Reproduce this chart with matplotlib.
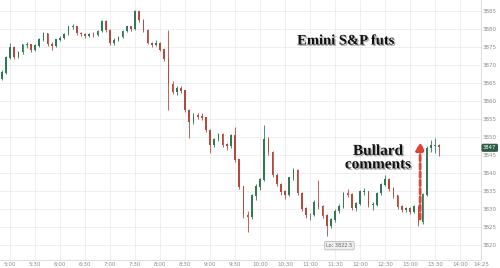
import matplotlib
matplotlib.use("Agg")
import matplotlib.pyplot as plt
import matplotlib.patheffects as pe
import numpy as np

# 5-minute bars, first bar closes at 4:50 (minutes relative to 5:00)
first_open = 3866.1
closes = [3867.8, 3872.0, 3875.0, 3872.2, 3873.6, 3875.6, 3875.6, 3874.2, 3875.3, 3877.0,
          3878.9, 3875.8, 3875.3, 3877.0, 3877.5, 3878.6, 3880.6, 3880.6, 3878.9, 3878.6,
          3878.1, 3878.6, 3878.3, 3879.4, 3882.2, 3879.7, 3876.1, 3876.9, 3877.8, 3879.4,
          3880.6, 3880.0, 3885.0, 3882.5, 3879.7, 3876.1, 3875.6, 3876.1, 3874.2, 3871.7,
          3864.7, 3862.5, 3863.6, 3862.8, 3857.5, 3854.2, 3856.1, 3855.6, 3855.3, 3851.9,
          3847.8, 3849.2, 3850.8, 3847.8, 3847.5, 3850.3, 3843.6, 3836.1, 3828.3, 3827.8,
          3833.6, 3836.1, 3838.1, 3849.2, 3845.8, 3839.4, 3836.9, 3834.7, 3833.9, 3838.6,
          3840.8, 3834.4, 3830.0, 3828.3, 3828.3, 3831.9, 3830.6, 3828.1, 3825.3, 3827.0,
          3829.4, 3830.6, 3834.4, 3833.9, 3830.3, 3831.4, 3834.7, 3834.7, 3831.1, 3831.1,
          3834.4, 3836.7, 3838.1, 3835.6, 3833.6, 3830.6, 3829.7, 3830.0, 3829.2, 3830.6,
          3826.4, 3833.9, 3846.9, 3847.5, 3847.5, 3847.2]
highs = [3868.5, 3872.6, 3876.1, 3875.3, 3874.0, 3876.0, 3876.4, 3875.9, 3875.8, 3877.4,
         3879.2, 3879.0, 3876.3, 3877.3, 3878.0, 3879.0, 3881.0, 3881.4, 3880.8, 3879.3,
         3878.9, 3879.0, 3879.1, 3879.8, 3882.5, 3882.4, 3880.0, 3877.4, 3878.2, 3879.8,
         3881.0, 3880.9, 3885.3, 3885.1, 3882.8, 3880.0, 3876.5, 3876.9, 3876.4, 3874.5,
         3879.7, 3865.5, 3864.2, 3864.1, 3863.0, 3857.8, 3856.6, 3856.7, 3856.6, 3855.6,
         3852.2, 3849.7, 3851.2, 3851.0, 3848.4, 3850.8, 3852.8, 3844.0, 3836.5, 3829.5,
         3834.2, 3836.8, 3838.6, 3853.3, 3850.0, 3846.2, 3840.0, 3837.2, 3835.3, 3839.0,
         3841.4, 3841.0, 3834.8, 3830.4, 3829.0, 3832.4, 3838.1, 3831.0, 3828.5, 3827.5,
         3829.9, 3831.4, 3834.8, 3835.5, 3834.3, 3832.0, 3835.2, 3835.8, 3835.0, 3831.8,
         3834.8, 3837.1, 3839.4, 3838.5, 3836.0, 3834.0, 3831.0, 3830.6, 3830.4, 3831.2,
         3831.0, 3834.5, 3847.5, 3849.2, 3849.7, 3848.0]
lows = [3865.8, 3867.5, 3871.8, 3871.6, 3871.9, 3873.2, 3874.8, 3873.7, 3873.9, 3875.0,
        3876.7, 3875.4, 3874.2, 3875.0, 3876.6, 3877.2, 3878.3, 3880.0, 3878.5, 3878.0,
        3877.6, 3877.8, 3877.9, 3878.0, 3879.1, 3879.2, 3875.6, 3875.7, 3876.6, 3877.5,
        3879.1, 3879.4, 3879.8, 3882.0, 3879.3, 3875.8, 3875.0, 3875.3, 3873.8, 3871.2,
        3857.5, 3861.9, 3861.7, 3862.2, 3857.0, 3849.7, 3853.5, 3855.0, 3854.6, 3851.4,
        3845.6, 3847.2, 3848.8, 3847.3, 3846.4, 3847.0, 3843.0, 3835.5, 3827.5, 3823.6,
        3827.3, 3832.6, 3835.2, 3837.8, 3845.0, 3838.9, 3836.3, 3833.9, 3832.8, 3833.5,
        3838.0, 3834.0, 3829.5, 3827.6, 3826.9, 3828.0, 3830.0, 3827.6, 3822.5, 3824.8,
        3826.5, 3829.0, 3830.2, 3833.2, 3829.8, 3829.5, 3831.0, 3834.0, 3830.6, 3829.8,
        3830.8, 3834.0, 3836.3, 3835.0, 3833.0, 3830.1, 3829.2, 3829.1, 3828.6, 3828.8,
        3825.3, 3825.8, 3833.5, 3845.8, 3845.6, 3844.8]

tick_minutes = [0, 30, 60, 90, 120, 150, 180, 210, 240, 270, 300, 330, 360, 390, 420,
                450, 480, 510, 540, 565]
tick_labels = ["5:00", "5:30", "6:00", "6:30", "7:00", "7:30", "8:00", "8:30", "9:00",
               "9:30", "10:00", "10:30", "11:00", "11:30", "12:00", "12:30", "13:00",
               "13:30", "14:00", "14:25"]
price_ticks = [3820, 3825, 3830, 3835, 3840, 3845, 3850, 3855, 3860, 3865, 3870, 3875,
               3880, 3885]
low_value = 3822.5
last_price = 3847

green = "#2f7a55"
red = "#b5493e"

closes = np.array(closes)
opens = np.concatenate([[first_open], closes[:-1]])
highs = np.array(highs)
lows = np.array(lows)
x = np.arange(len(closes)) * 5 - 10

fig = plt.figure(figsize=(5, 2.68), dpi=100)
ax = fig.add_axes([0, 8 / 268, 481 / 500, 260 / 268])

up = closes >= opens
colors = np.where(up, green, red)
ax.vlines(x, lows, highs, colors=colors, linewidth=0.6, zorder=3)
ax.bar(x, np.abs(closes - opens) + 0.15, bottom=np.minimum(opens, closes), width=2.0,
       color=colors, linewidth=0, zorder=3)

ax.set_xlim(-12, 565)
ax.set_ylim(3815.8, 3888.1)

ax.set_xticks(tick_minutes)
ax.set_xticklabels(tick_labels)
ax.set_yticks(price_ticks)
ax.yaxis.tick_right()
ax.tick_params(axis="both", length=0, labelsize=4, colors="#8a8a8a", pad=1.5)
ax.grid(True, color="#ececec", linewidth=0.6, zorder=0)
ax.set_axisbelow(True)
for s in ["top", "left"]:
    ax.spines[s].set_visible(False)
for s in ["right", "bottom"]:
    ax.spines[s].set_color("#d8d8d8")
    ax.spines[s].set_linewidth(0.6)

shadow = [pe.withSimplePatchShadow(offset=(1, -1), shadow_rgbFace="#777777", alpha=0.6)]
ax.text(0.692, 0.847, "Emini S&P futs", transform=fig.transFigure, ha="center",
        va="center", fontsize=10.5, fontweight="bold", family="Liberation Serif",
        color="#111111", path_effects=shadow)
ax.text(0.756, 0.41, "Bullard\ncomments", transform=fig.transFigure, ha="center",
        va="center", fontsize=11, fontweight="bold", family="Liberation Serif",
        color="#111111", linespacing=1.05, path_effects=shadow)

ax.annotate("", xy=(492, 3849.5), xytext=(492, 3826.4),
            arrowprops=dict(arrowstyle="-|>,head_width=0.25,head_length=0.5",
                            color="#e0433a", lw=2, linestyle=(0, (2, 1))),
            zorder=5)

ilow = int(np.argmin(lows))
ax.annotate(f"Lo: {low_value}", xy=(x[ilow], lows[ilow]), xytext=(9, -7),
            textcoords="offset points", ha="center", va="center", fontsize=3.6,
            color="#666666",
            bbox=dict(boxstyle="round,pad=0.35", fc="#eeeeee", ec="#b0b0b0", lw=0.5))

ax.annotate(str(last_price), xy=(1.0, last_price), xycoords=("axes fraction", "data"),
            xytext=(1.5, 0), textcoords="offset points", ha="left", va="center",
            fontsize=3.8, color="white", annotation_clip=False,
            bbox=dict(boxstyle="round,pad=0.3", fc="#2b5e43", ec="none"))

fig.savefig("out.png", dpi=100, facecolor="white")
